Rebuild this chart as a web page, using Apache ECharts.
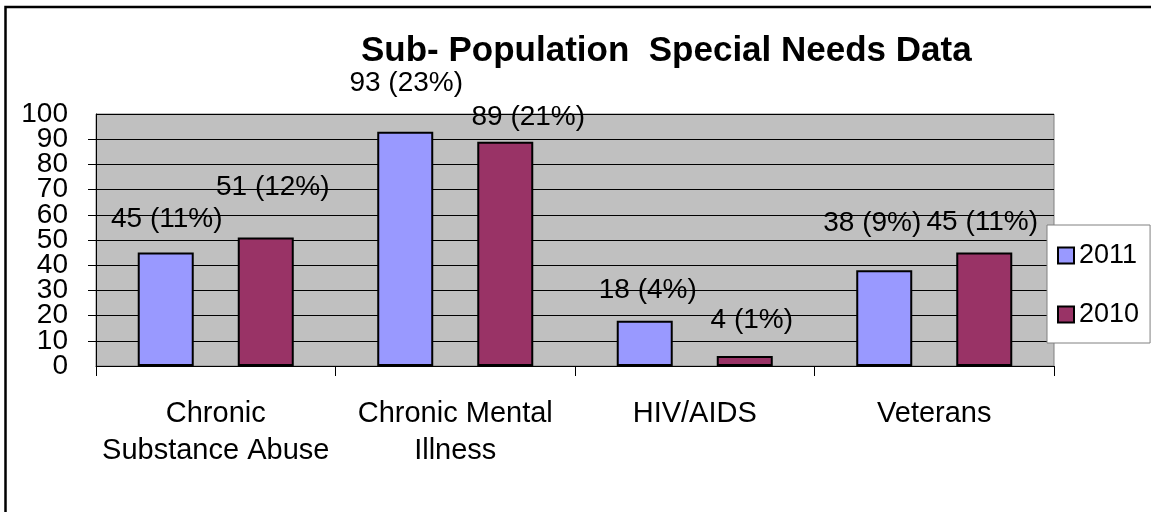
<!DOCTYPE html>
<html>
<head>
<meta charset="utf-8">
<script src="https://cdn.jsdelivr.net/npm/echarts@6/dist/echarts.min.js"></script>
<style>
html,body{margin:0;padding:0;background:#fff;}
#chart{width:1151px;height:512px;}
</style>
</head>
<body>
<div id="chart"></div>
<script>
const categories = ['Chronic\nSubstance Abuse', 'Chronic Mental\nIllness', 'HIV/AIDS', 'Veterans'];
const seriesNames = ['2011', '2010'];
const values2011 = [45, 93, 18, 38];
const values2010 = [51, 89, 4, 45];
const percent2011 = [11, 23, 4, 9];
const percent2010 = [12, 21, 1, 11];
const yTicks = [0, 10, 20, 30, 40, 50, 60, 70, 80, 90, 100];

// label nudges (style only, pixels) as placed in the original
const nudge2011 = [[1, -3], [1, -18], [3, 0], [-12, -17]];
const nudge2010 = [[7, -20], [23, 6], [7, -6], [-2, 0]];

const FONT = "'Liberation Sans', Arial, sans-serif";
const yMin = yTicks[0];
const yMax = yTicks[yTicks.length - 1];
const yStep = yTicks[1] - yTicks[0];

function buildData(vals, pcts, nudges) {
  return vals.map((v, i) => ({
    value: v,
    label: { offset: nudges[i], formatter: v + ' (' + pcts[i] + '%)' }
  }));
}

const yLabelStyle = { margin: 28, fontFamily: FONT, fontSize: 28, color: '#000', hideOverlap: false };

const chart = echarts.init(document.getElementById('chart'), null, { renderer: 'canvas' });
chart.setOption({
  animation: false,
  backgroundColor: '#fff',
  textStyle: { fontFamily: FONT },
  title: {
    text: 'Sub- Population  Special Needs Data',
    left: 361,
    top: 34,
    padding: 0,
    textStyle: { fontFamily: FONT, fontSize: 35, fontWeight: 'bold', color: '#000' }
  },
  graphic: [{
    type: 'rect',
    shape: { x: 5.5, y: 7, width: 1300, height: 700 },
    style: { fill: null, stroke: '#000', lineWidth: 2.5 },
    silent: true,
    z: 100
  }],
  legend: {
    orient: 'vertical',
    left: 1047,
    top: 225,
    padding: [17, 11, 15, 10],
    itemGap: 32,
    itemWidth: 16,
    itemHeight: 16,
    icon: 'rect',
    backgroundColor: '#fff',
    borderColor: '#808080',
    borderWidth: 1,
    data: seriesNames,
    textStyle: { fontFamily: FONT, fontSize: 27, color: '#000' }
  },
  grid: {
    left: 96, right: 97, top: 114, bottom: 146,
    show: true,
    backgroundColor: '#C0C0C0',
    borderColor: '#808080',
    borderWidth: 1
  },
  xAxis: {
    type: 'category',
    data: categories,
    axisLine: { lineStyle: { color: '#000', width: 1 } },
    axisTick: { show: true, length: 10, lineStyle: { color: '#000' } },
    axisLabel: {
      interval: 0,
      margin: 29,
      fontFamily: FONT,
      fontSize: 29,
      lineHeight: 37,
      color: '#000'
    }
  },
  yAxis: [
    {
      type: 'value',
      position: 'left',
      min: yMin,
      max: yMax,
      interval: yStep,
      axisLine: { show: true, lineStyle: { color: '#000', width: 1 } },
      axisTick: { show: true, length: 8, lineStyle: { color: '#000' } },
      axisLabel: Object.assign({ showMinLabel: false, showMaxLabel: false }, yLabelStyle),
      splitLine: { show: true, lineStyle: { color: '#000', width: 1 } }
    },
    {
      type: 'value',
      position: 'left',
      offset: 0,
      min: yMin,
      max: yMax,
      interval: yMax - yMin,
      axisLine: { show: false },
      axisTick: { show: false },
      axisLabel: Object.assign({ showMinLabel: true, showMaxLabel: true }, yLabelStyle),
      splitLine: { show: false }
    }
  ],
  series: [
    {
      name: seriesNames[0],
      type: 'bar',
      barWidth: 56,
      barGap: '78.6%',
      data: buildData(values2011, percent2011, nudge2011),
      itemStyle: { color: '#9999FF', borderColor: '#000', borderWidth: 2 },
      label: { show: true, position: 'top', distance: 16, fontFamily: FONT, fontSize: 28, color: '#000' }
    },
    {
      name: seriesNames[1],
      type: 'bar',
      barWidth: 56,
      barGap: '78.6%',
      data: buildData(values2010, percent2010, nudge2010),
      itemStyle: { color: '#993366', borderColor: '#000', borderWidth: 2 },
      label: { show: true, position: 'top', distance: 16, fontFamily: FONT, fontSize: 28, color: '#000' }
    }
  ]
});
</script>
</body>
</html>
